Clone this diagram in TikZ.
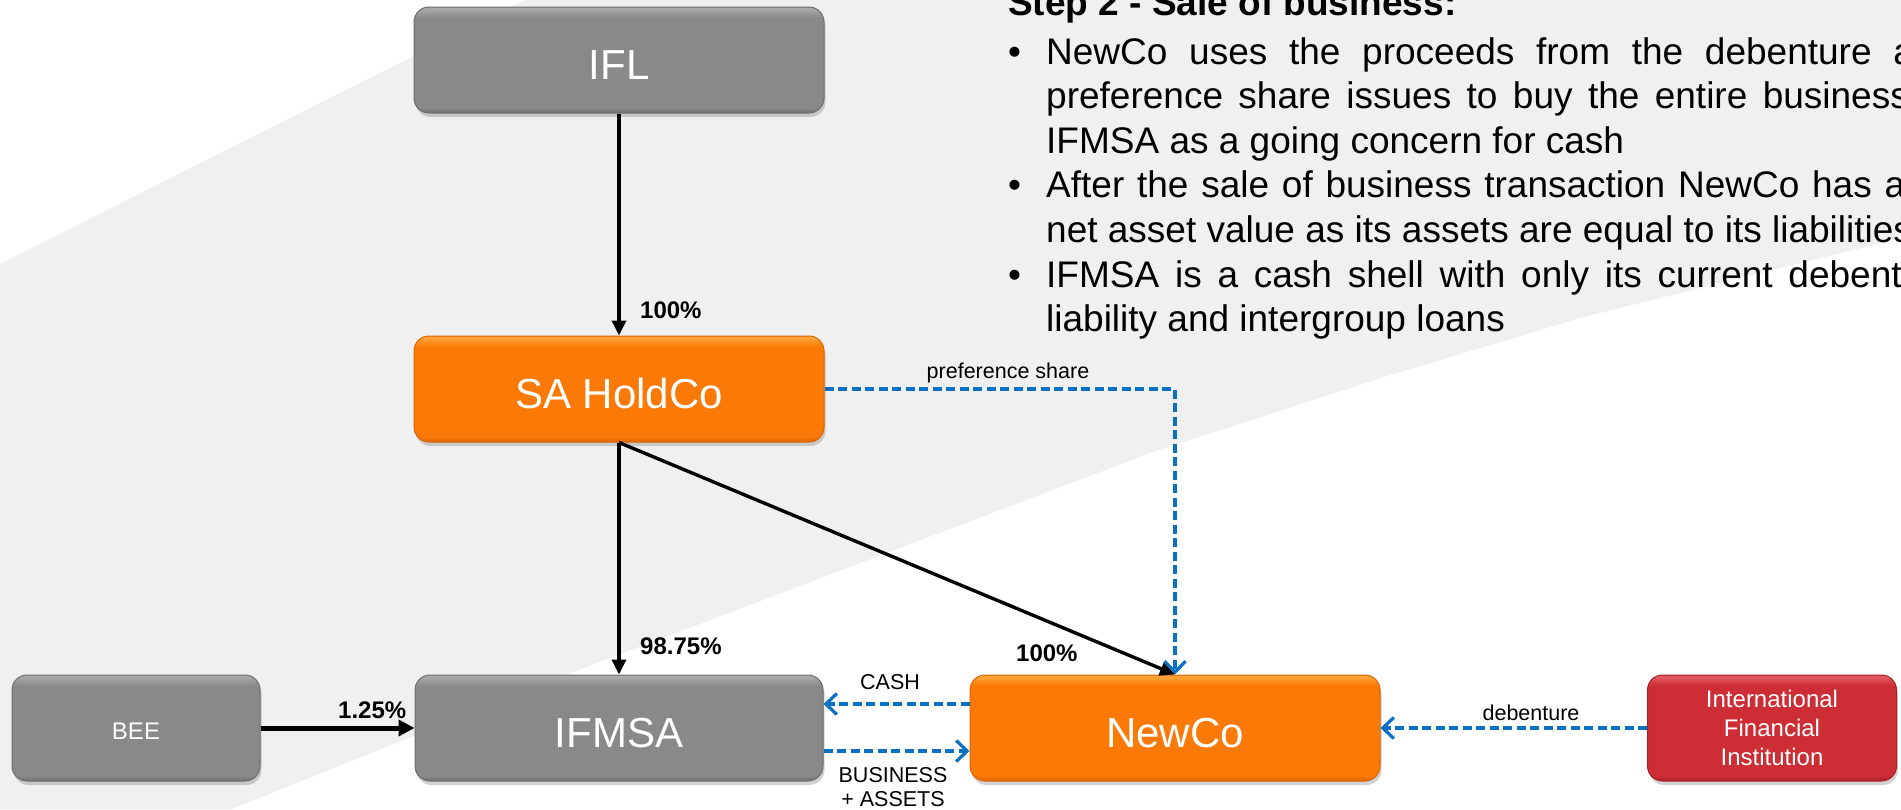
\documentclass[tikz,border=0pt]{standalone}
\usepackage{fontspec}
\setmainfont{Liberation Sans}
\usetikzlibrary{arrows.meta,shadows}

\definecolor{bgband}{HTML}{F0F0F0}
\definecolor{flowblue}{HTML}{0A70C4}
\definecolor{gBase}{HTML}{898989}
\definecolor{gTop}{HTML}{A9A9A9}
\definecolor{gBot}{HTML}{6E6E6E}
\definecolor{oBase}{HTML}{FB7906}
\definecolor{oTop}{HTML}{FFA238}
\definecolor{oBot}{HTML}{DC6500}
\definecolor{rBase}{HTML}{CD2D35}
\definecolor{rTop}{HTML}{E2585F}
\definecolor{rBot}{HTML}{A91F27}

% box faces: dark rim at the bottom, flat body, light rim at the top
\pgfdeclareverticalshading{grayface}{100bp}{color(0bp)=(gBot); color(25bp)=(gBot); color(27.5bp)=(gBase); color(70bp)=(gBase); color(74bp)=(gTop); color(100bp)=(gTop)}
\pgfdeclareverticalshading{orangeface}{100bp}{color(0bp)=(oBot); color(25bp)=(oBot); color(27.5bp)=(oBase); color(70bp)=(oBase); color(74bp)=(oTop); color(100bp)=(oTop)}
\pgfdeclareverticalshading{redface}{100bp}{color(0bp)=(rBot); color(25bp)=(rBot); color(27.5bp)=(rBase); color(70bp)=(rBase); color(74bp)=(rTop); color(100bp)=(rTop)}

\tikzset{
  firm/.style={rounded corners=15pt, minimum height=106pt, inner sep=0pt,
    text=white, align=center, line width=1pt,
    drop shadow={shadow xshift=1.5pt, shadow yshift=-4pt, opacity=0.35}},
  greybox/.style={firm, shade, shading=grayface, draw=gBot},
  orangebox/.style={firm, shade, shading=orangeface, draw=oBot},
  redbox/.style={firm, shade, shading=redface, draw=rBot},
  bigname/.style={font=\fontsize{42}{48}\selectfont, text height=38pt, text depth=0pt},
  smallname/.style={font=\fontsize{24}{28}\selectfont, text height=23pt, text depth=0pt},
  own/.style={draw=black, line width=3.4pt, -{Triangle[length=15pt,width=14pt]}},
  flow/.style={draw=flowblue, line width=3.2pt, dash pattern=on 9pt off 4.5pt,
    -{Straight Barb[length=11pt,width=21pt]}},
  pct/.style={font=\bfseries\fontsize{24}{28}\selectfont, inner sep=0pt, anchor=west},
  tag/.style={font=\fontsize{21.5}{23.5}\selectfont, inner sep=0pt, align=center},
  body/.style={font=\fontsize{37}{44.5}\selectfont, inner sep=0pt, anchor=base west},
}

\begin{document}
\begin{tikzpicture}[x=1pt,y=-1pt]
\useasboundingbox (0,0) rectangle (1901,809);
\clip (0,0) rectangle (1901,809);

% background: white with a light grey diagonal band
\fill[white] (0,0) rectangle (1901,809);
\fill[bgband] (0,264) -- (525,0) -- (1901,0) -- (1901,238) -- (1580,318)
  -- (1390,375) -- (1150,453) -- (560,677) -- (232,809) -- (0,809) -- cycle;

% entities
\node[greybox, minimum width=410pt, bigname] (ifl) at (619,60) {IFL};
\node[orangebox, minimum width=410pt, bigname] (hold) at (619,389) {SA HoldCo};
\node[greybox, minimum width=408pt, bigname] (ifmsa) at (619,728) {IFMSA};
\node[greybox, minimum width=248pt, smallname] (bee) at (136,728) {BEE};
\node[orangebox, minimum width=410pt, bigname] (newco) at (1175,728) {NewCo};
\node[redbox, minimum width=249pt, font=\fontsize{24}{29}\selectfont] (ifi) at (1772,728) {International\\Financial\\Institution};

% shareholdings
\draw[own] (ifl.south) -- (hold.north);
\draw[own] (hold.south) -- (ifmsa.north);
\draw[own] (hold.south) -- (newco.north);
\draw[own, line width=5pt, -{Triangle[length=16pt,width=16pt]}] (bee.east) -- (ifmsa.west);

% funding and sale flows
\draw[flow] (hold.east) -| (newco.north);
\draw[flow] ([yshift=24pt]newco.west) -- ([yshift=24pt]ifmsa.east);
\draw[flow] ([yshift=-23pt]ifmsa.east) -- ([yshift=-23pt]newco.west);
\draw[flow] (ifi.west) -- (newco.east);

% percentages
\node[pct] (p1) at (640,310) {100\%};
\node[pct] (p2) at (640,646) {98.75\%};
\node[pct] (p3) at (1016,653) {100\%};
\node[pct] (p4) at (338,710) {1.25\%};

% flow labels
\node[tag] (tpref) at (1008,373) {preference share};
\node[tag] (tcash) at (890,682) {CASH};
\node[tag] (tbus) at (893,787) {BUSINESS\\+ ASSETS};
\node[tag] (tdeb) at (1531,713) {debenture};

% explanatory text
\node[body, font=\bfseries\fontsize{37}{44.5}\selectfont] (head) at (1008,15) {Step 2 - Sale of business:};
\node[body] (b1) at (1008,64) {\textbullet};
\node[body] (l1) at (1046,64) {\makebox[909pt][s]{NewCo uses the proceeds from the debenture and}};
\node[body] (l2) at (1046,108.6) {\makebox[862.7pt][s]{preference share issues to buy the entire business}};
\node[body] (l3) at (1046,153.2) {IFMSA as a going concern for cash};
\node[body] (b2) at (1008,197.8) {\textbullet};
\node[body] (l4) at (1046,197.8) {\makebox[859pt][s]{After the sale of business transaction NewCo has a}};
\node[body] (l5) at (1046,242.4) {net asset value as its assets are equal to its liabilities};
\node[body] (b3) at (1008,287) {\textbullet};
\node[body] (l6) at (1046,287) {\makebox[909pt][s]{IFMSA is a cash shell with only its current debenture}};
\node[body] (l7) at (1046,331.6) {liability and intergroup loans};
\end{tikzpicture}
\end{document}
